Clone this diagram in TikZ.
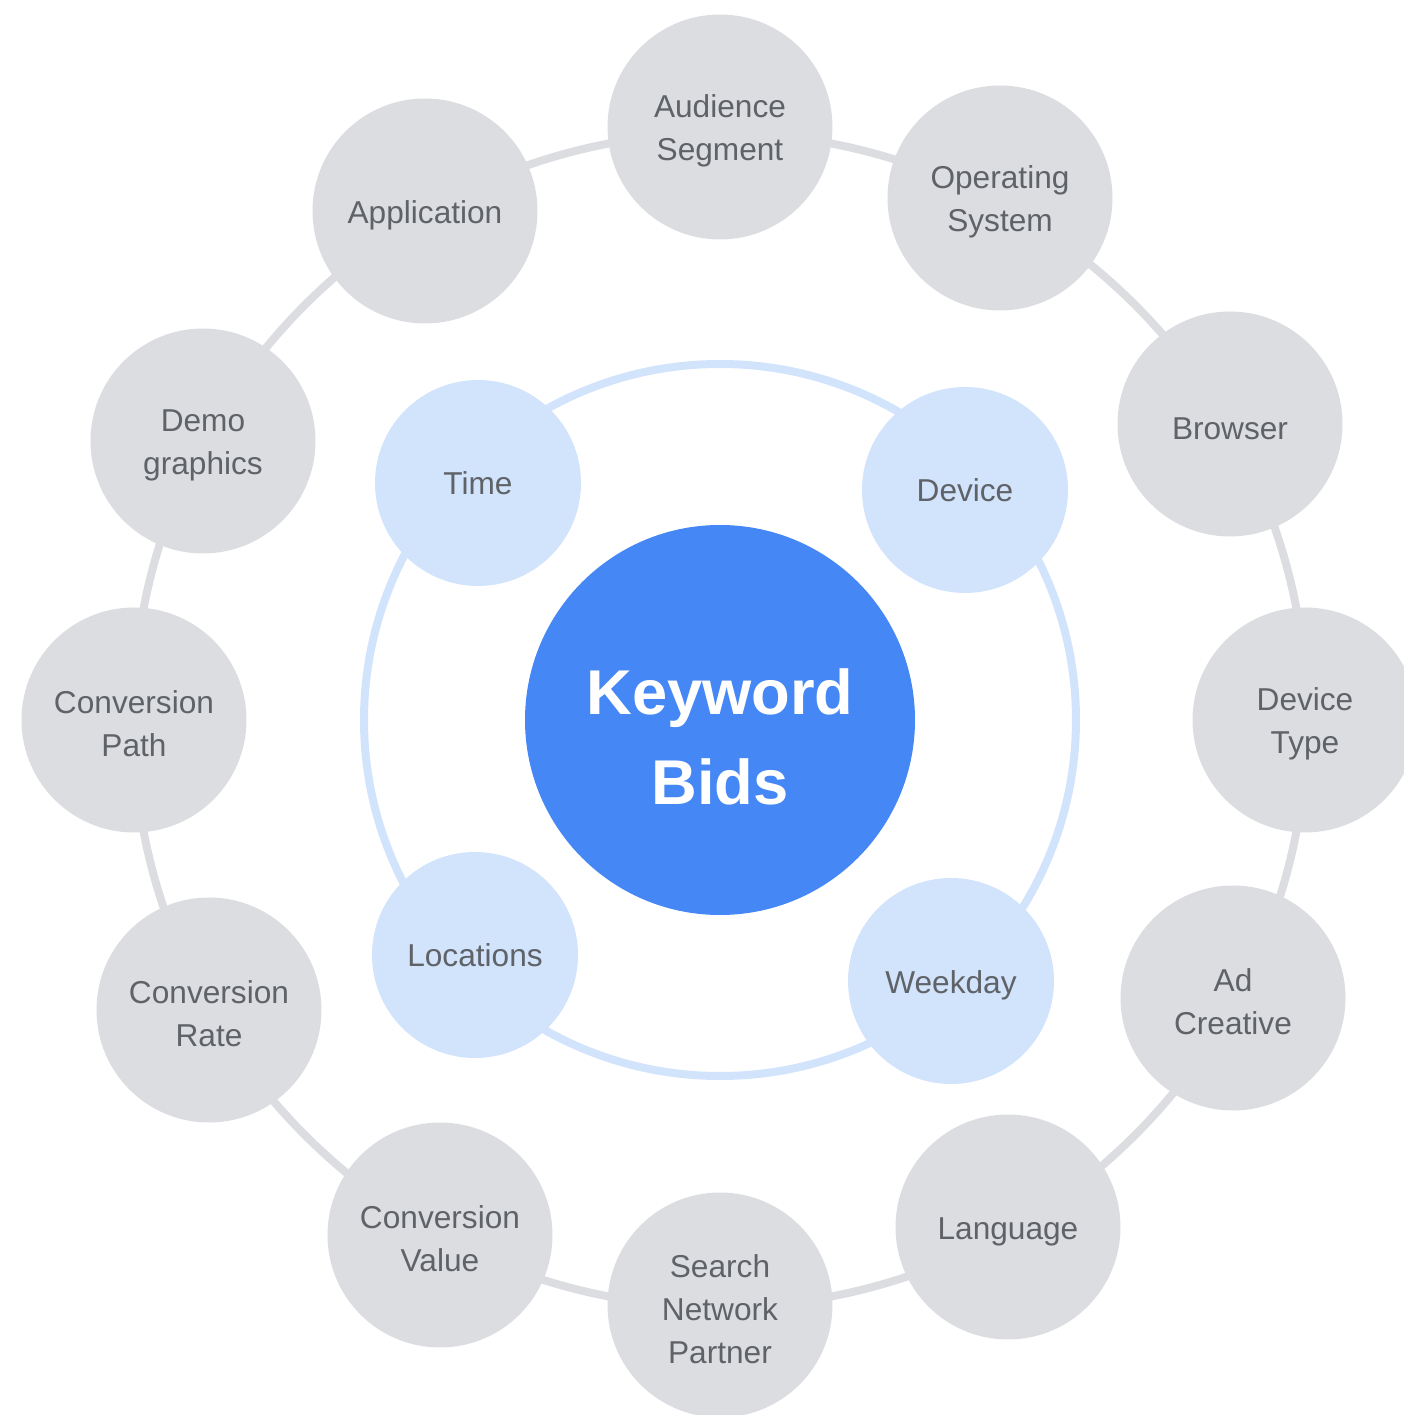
\documentclass[tikz,border=0pt]{standalone}
\usepackage{fontspec}
\setmainfont{Liberation Sans}
\usepackage{tikz}
\usetikzlibrary{backgrounds}
\definecolor{bidblue}{HTML}{4487F5}
\definecolor{paleblue}{HTML}{D2E3FC}
\definecolor{softgray}{HTML}{DCDDE0}
\definecolor{labelgray}{HTML}{5F6368}
\newcommand{\capstrut}{\rule{0pt}{8.8pt}}
\newcommand{\hubstrut}{\rule{0pt}{22.5pt}}

\begin{document}
\begin{tikzpicture}[
  every node/.style={font={\fontsize{9}{12.2}\selectfont}, text=labelgray, align=center},
  outer/.style={circle, fill=softgray, minimum size=22.5mm, inner sep=0pt},
  inner/.style={circle, fill=paleblue, minimum size=20.6mm, inner sep=0pt},
  hub/.style={circle, fill=bidblue, minimum size=39mm, inner sep=0pt, text=white,
              font={\bfseries\fontsize{18}{25.6}\selectfont}},
  grayring/.style={draw=softgray, line width=0.8mm},
  bluering/.style={draw=paleblue, line width=0.8mm},
]
\useasboundingbox (-7.20,-6.95) rectangle (6.84,7.20);

\node[hub] (kw) at (0,0) {\hubstrut Keyword\\Bids};

% inner ring
\node[inner] (time)    at (-2.42, 2.37) {Time};
\node[inner] (device)  at ( 2.45, 2.30) {Device};
\node[inner] (loc)     at (-2.45,-2.35) {Locations};
\node[inner] (weekday) at ( 2.31,-2.61) {\capstrut Weekday};

% outer ring
\node[outer] (aud)      at ( 0.00, 5.93) {\capstrut Audience\\Segment};
\node[outer] (opsys)    at ( 2.80, 5.22) {\capstrut Operating\\System};
\node[outer] (browser)  at ( 5.10, 2.96) {\capstrut Browser};
\node[outer] (devtype)  at ( 5.85, 0.00) {\capstrut Device\\Type};
\node[outer] (adcre)    at ( 5.13,-2.78) {\capstrut Ad\\Creative};
\node[outer] (lang)     at ( 2.88,-5.07) {\capstrut Language};
\node[outer] (snp)      at ( 0.00,-5.85) {\capstrut Search\\Network\\Partner};
\node[outer] (convval)  at (-2.80,-5.15) {\capstrut Conversion\\Value};
\node[outer] (convrate) at (-5.11,-2.90) {\capstrut Conversion\\Rate};
\node[outer] (convpath) at (-5.86, 0.00) {\capstrut Conversion\\Path};
\node[outer] (demo)     at (-5.17, 2.79) {\capstrut Demo\\graphics};
\node[outer] (app)      at (-2.95, 5.09) {\capstrut Application};

\begin{scope}[on background layer]
  \draw[grayring] (kw.center) circle (5.87);
  \draw[bluering] (kw.center) circle (3.56);
\end{scope}
\end{tikzpicture}
\end{document}
